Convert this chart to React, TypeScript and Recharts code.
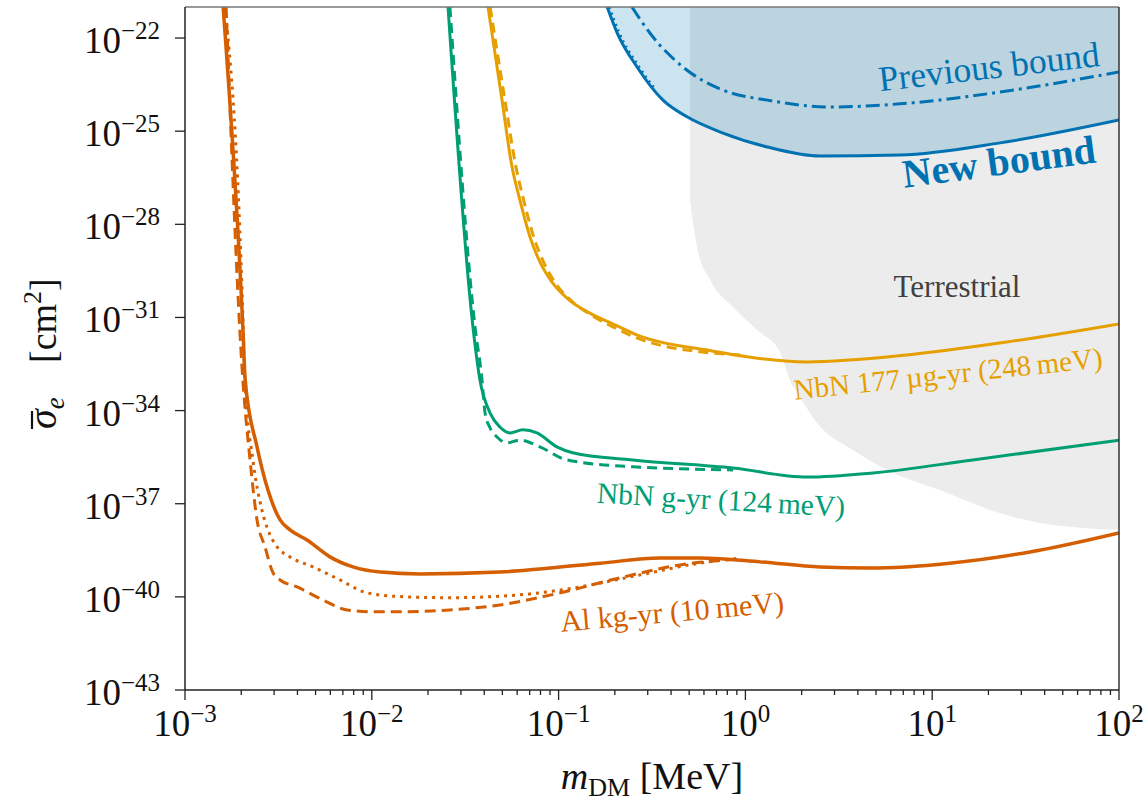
import React from "react";
import {
  ComposedChart,
  Line,
  Area,
  XAxis,
  YAxis,
  ReferenceLine,
} from "recharts";

type Pt = [number, number];

const FONT = "'Liberation Serif', 'DejaVu Serif', serif";

// axes
const xMajor = [1e-3, 1e-2, 1e-1, 1, 10, 100];
const xMajorLabels = ["\u22123", "\u22122", "\u22121", "0", "1", "2"];
const yMajor = [1e-43, 1e-40, 1e-37, 1e-34, 1e-31, 1e-28, 1e-25, 1e-22];
const yMajorLabels = ["\u221243", "\u221240", "\u221237", "\u221234", "\u221231", "\u221228", "\u221225", "\u221222"];

// [m_DM (MeV), sigma_e (cm^2)]
const alSolid: Pt[] = [
  [1.6e-3, 1e-21], [2.04e-3, 4.9e-32], [2.1e-3, 9.8e-34], [2.43e-3, 6.8e-36],
  [2.78e-3, 2.75e-37], [3.23e-3, 3.0e-38], [3.65e-3, 1.44e-38], [4.5e-3, 6.8e-39],
  [5.97e-3, 1.94e-39], [7.93e-3, 9.2e-40], [1.11e-2, 6.3e-40], [1.81e-2, 5.5e-40],
  [4.85e-2, 6.3e-40], [0.167, 1.22e-39], [0.349, 1.77e-39], [0.571, 1.77e-39],
  [1.2, 1.34e-39], [2.51, 9.2e-40], [4.64, 8.5e-40], [12.4, 1.22e-39],
  [33.4, 2.8e-39], [100, 1.15e-38],
];
const alDotted: Pt[] = [
  [1.64e-3, 1e-21], [2.05e-3, 4.9e-32], [2.09e-3, 9.8e-34], [2.31e-3, 2.57e-36],
  [2.58e-3, 6.3e-38], [2.78e-3, 1.44e-38], [3.11e-3, 4.1e-39], [3.65e-3, 1.94e-39],
  [4.84e-3, 9.2e-40], [6.76e-3, 3.5e-40], [9.42e-3, 1.35e-40], [1.42e-2, 1.02e-40],
  [2.62e-2, 9.4e-41], [6.21e-2, 1.16e-40], [0.13, 2.09e-40], [0.273, 5.1e-40],
  [0.571, 1.22e-39], [0.935, 1.77e-39],
];
const alDashed: Pt[] = [
  [1.66e-3, 1e-21], [2.04e-3, 9.8e-34], [2.23e-3, 2.57e-36], [2.43e-3, 3.0e-38],
  [2.68e-3, 4.1e-39], [2.96e-3, 5.9e-40], [3.23e-3, 3.5e-40], [3.98e-3, 2.09e-40],
  [5.48e-3, 7.9e-41], [7.37e-3, 3.8e-41], [1.01e-2, 3.3e-41], [1.42e-2, 3.3e-41],
  [2.62e-2, 3.8e-41], [4.85e-2, 5.5e-41], [0.102, 1.35e-40], [0.213, 4.1e-40],
  [0.447, 1.07e-39], [0.935, 1.66e-39],
];
const nbnSolid: Pt[] = [
  [2.56e-2, 1e-21], [3.48e-2, 4.9e-32], [3.79e-2, 9.8e-34], [4.3e-2, 8.3e-35],
  [4.85e-2, 2.95e-35], [5.5e-2, 1.9e-35], [6.44e-2, 2.4e-35], [7.66e-2, 1.9e-35],
  [9.79e-2, 6.8e-36], [0.119, 4.4e-36], [0.25, 2.57e-36], [0.859, 1.41e-36],
  [2.14, 7.2e-37], [4.82, 9.8e-37], [16.5, 2.57e-36], [100, 1.11e-35],
];
const nbnDashed: Pt[] = [
  [2.62e-2, 1e-21], [3.57e-2, 4.9e-32], [3.89e-2, 9.8e-34], [4.04e-2, 8.3e-35],
  [4.3e-2, 2.75e-35], [4.68e-2, 1.41e-35], [5.3e-2, 9.1e-36], [6.21e-2, 1.13e-35],
  [7.94e-2, 6.8e-36], [0.111, 2.57e-36], [0.25, 1.55e-36], [0.859, 1.23e-36],
];
const thinSolid: Pt[] = [
  [4.19e-2, 1e-21], [4.98e-2, 1.0e-24], [5.63e-2, 7.1e-27], [6.21e-2, 6.0e-28],
  [7.03e-2, 3.9e-29], [7.94e-2, 6.2e-30], [9.22e-2, 1.38e-30], [0.112, 4.0e-31],
  [0.147, 1.38e-31], [0.2, 5.8e-32], [0.273, 2.5e-32], [0.622, 8.9e-33],
  [2.14, 3.7e-33], [7.33, 6.2e-33], [25.1, 1.62e-32], [100, 6.2e-32],
];
const thinDashed: Pt[] = [
  [4.3e-2, 1e-21], [5.16e-2, 1.0e-24], [5.91e-2, 7.1e-27], [6.5e-2, 6.0e-28],
  [7.36e-2, 3.9e-29], [8.3e-2, 6.2e-30], [9.6e-2, 1.3e-30], [0.116, 3.6e-31],
  [0.153, 1.1e-31], [0.2, 4.6e-32], [0.273, 2.0e-32], [0.571, 7.8e-33],
  [0.935, 6.2e-33],
];
const newBound: Pt[] = [
  [0.182, 1e-21], [0.206, 1.45e-22], [0.263, 1.17e-23], [0.362, 1.0e-24],
  [0.487, 2.9e-25], [0.759, 8.7e-26], [1.31, 3.1e-26], [2.51, 1.58e-26],
  [6.73, 1.7e-26], [23.1, 4.2e-26], [100, 2.3e-25],
];
const newBoundDotted: Pt[] = [
  [0.187, 1e-21], [0.21, 1.6e-22], [0.266, 1.35e-23], [0.33, 2.2e-24],
];
const prevBound: Pt[] = [
  [0.247, 1e-21], [0.308, 1.45e-22], [0.463, 1.17e-23], [0.759, 2.1e-24],
  [1.31, 1.0e-24], [2.84, 6.0e-25], [6.73, 7.6e-25], [23.1, 1.82e-24],
  [100, 8.1e-24],
];
const terrestrial: Pt[] = [
  [0.505, 6.0e-28], [0.551, 1.86e-29], [0.647, 1.62e-30], [0.859, 2.19e-31],
  [1.15, 4.0e-32], [1.53, 7.8e-33], [1.73, 9.8e-34], [1.96, 2.75e-34],
  [2.42, 4.0e-35], [3.77, 5.4e-36], [5.73, 1.23e-36], [11.0, 2.75e-37],
  [20.4, 6.3e-38], [37.8, 2.4e-38], [64.1, 1.66e-38], [100, 1.44e-38],
];

const notes = [
  { text: "Previous bound", cx: 989, cy: 67, rot: -6.5, color: "#0072B2", size: 35.5, bold: false },
  { text: "New bound", cx: 999, cy: 162, rot: -7.5, color: "#0072B2", size: 40, bold: true },
  { text: "Terrestrial", cx: 957, cy: 287, rot: 0, color: "#404040", size: 31, bold: false },
  { text: "NbN 177\u2009\u00b5g-yr (248\u2009meV)", cx: 948, cy: 374, rot: -6, color: "#E69F00", size: 29, bold: false },
  { text: "NbN g-yr (124\u2009meV)", cx: 721, cy: 500, rot: 3.2, color: "#009E73", size: 29.5, bold: false },
  { text: "Al kg-yr (10\u2009meV)", cx: 672, cy: 612, rot: -5, color: "#D55E00", size: 30, bold: false },
];

const xTicks: number[] = [];
xMajor.slice(0, 5).forEach((d) => {
  for (let k = 1; k < 10; k++) xTicks.push(d * k);
});
xTicks.push(100);

const toPts = (pts: Pt[]) => pts.map(([m, s]) => ({ m, s }));
const toBand = (pts: Pt[]) => pts.map(([m, s]) => ({ m, r: [s, 1e-21] }));

const isMajor = (v: number) => {
  const l = Math.log10(v);
  return Math.abs(l - Math.round(l)) < 1e-6;
};

function XTick(props: any) {
  const { x, y, payload } = props;
  const major = isMajor(payload.value);
  const idx = xMajor.findIndex((v) => Math.abs(Math.log10(v) - Math.log10(payload.value)) < 1e-6);
  return (
    <g>
      <line x1={x} x2={x} y1={y} y2={y + (major ? 10 : 5)} stroke="#222" strokeWidth={1.3} />
      {major && (
        <text x={x} y={y + 46} textAnchor="middle" fontFamily={FONT} fill="#111">
          <tspan fontSize={37}>10</tspan>
          <tspan fontSize={25} dy={-14}>{xMajorLabels[idx]}</tspan>
        </text>
      )}
    </g>
  );
}

function YTick(props: any) {
  const { x, y, payload } = props;
  const idx = yMajor.findIndex((v) => Math.abs(Math.log10(v) - Math.log10(payload.value)) < 1e-6);
  return (
    <g>
      <line x1={x - 10} x2={x} y1={y} y2={y} stroke="#222" strokeWidth={1.3} />
      <text x={x - 25} y={y + 15} textAnchor="end" fontFamily={FONT} fill="#111">
        <tspan fontSize={37}>10</tspan>
        <tspan fontSize={25} dy={-14}>{yMajorLabels[idx]}</tspan>
      </text>
    </g>
  );
}

// text layer drawn above the chart
function Texts() {
  return (
    <svg
      width={1148}
      height={802}
      style={{ position: "absolute", left: 0, top: 0, pointerEvents: "none" }}
      fontFamily={FONT}
    >
      <text x={652} y={789} textAnchor="middle" fill="#111" fontSize={38}>
        <tspan fontStyle="italic">m</tspan>
        <tspan fontSize={26} dy={7}>DM</tspan>
        <tspan dy={-7}> [MeV]</tspan>
      </text>
      <g transform="rotate(-90 56 352)">
        <text x={-21} y={352} fill="#111" fontSize={40}>
          <tspan fontStyle="italic">{"\u03c3"}</tspan>
          <tspan fontSize={27} fontStyle="italic" dy={8}>e</tspan>
        </text>
        <line x1={-21} x2={-3} y1={328} y2={328} stroke="#111" strokeWidth={2.2} />
        <text x={45} y={352} fill="#111" fontSize={38}>
          <tspan>[cm</tspan>
          <tspan fontSize={26} dy={-15}>2</tspan>
          <tspan dy={15}>]</tspan>
        </text>
      </g>
      {notes.map((n) => (
        <g key={n.text} transform={`translate(${n.cx},${n.cy}) rotate(${n.rot})`}>
          <text
            x={0}
            y={n.size * 0.33}
            textAnchor="middle"
            fill={n.color}
            fontSize={n.size}
            fontWeight={n.bold ? "bold" : "normal"}
          >
            {n.text}
          </text>
        </g>
      ))}
    </svg>
  );
}

export default function App() {
  return (
    <div style={{ position: "absolute", left: 0, top: 0, width: 1148, height: 802, background: "#fff" }}>
      <ComposedChart width={1148} height={802} margin={{ top: 7, right: 29, bottom: 12, left: 35 }}>
        <XAxis
          dataKey="m"
          type="number"
          scale="log"
          domain={[1e-3, 100]}
          allowDataOverflow
          ticks={xTicks}
          interval={0}
          tick={<XTick />}
          tickLine={false}
          tickSize={0}
          tickMargin={0}
          height={100}
          axisLine={{ stroke: "#222", strokeWidth: 1.5 }}
        />
        <YAxis
          type="number"
          scale="log"
          domain={[1e-43, 1e-21]}
          allowDataOverflow
          ticks={yMajor}
          interval={0}
          tick={<YTick />}
          tickLine={false}
          tickSize={0}
          tickMargin={0}
          width={150}
          axisLine={{ stroke: "#222", strokeWidth: 1.5 }}
        />
        <Area
          data={toBand(terrestrial)}
          dataKey="r"
          type="monotone"
          stroke="none"
          fill="#ececec"
          fillOpacity={1}
          isAnimationActive={false}
        />
        <Area
          data={toBand(newBound)}
          dataKey="r"
          type="monotone"
          stroke="none"
          fill="#0072B2"
          fillOpacity={0.2}
          isAnimationActive={false}
        />
        <Line data={toPts(prevBound)} dataKey="s" type="monotone" stroke="#0072B2" strokeWidth={3} strokeDasharray="14 5 3 5" dot={false} isAnimationActive={false} />
        <Line data={toPts(newBoundDotted)} dataKey="s" type="monotone" stroke="#0072B2" strokeWidth={2.5} strokeDasharray="2 4" dot={false} isAnimationActive={false} />
        <Line data={toPts(newBound)} dataKey="s" type="monotone" stroke="#0072B2" strokeWidth={3} dot={false} isAnimationActive={false} />
        <Line data={toPts(thinDashed)} dataKey="s" type="monotone" stroke="#E69F00" strokeWidth={3} strokeDasharray="10 6" dot={false} isAnimationActive={false} />
        <Line data={toPts(thinSolid)} dataKey="s" type="monotone" stroke="#E69F00" strokeWidth={3} dot={false} isAnimationActive={false} />
        <Line data={toPts(nbnDashed)} dataKey="s" type="monotone" stroke="#009E73" strokeWidth={3} strokeDasharray="10 6" dot={false} isAnimationActive={false} />
        <Line data={toPts(nbnSolid)} dataKey="s" type="monotone" stroke="#009E73" strokeWidth={3} dot={false} isAnimationActive={false} />
        <Line data={toPts(alDashed)} dataKey="s" type="monotone" stroke="#D55E00" strokeWidth={3} strokeDasharray="11 6" dot={false} isAnimationActive={false} />
        <Line data={toPts(alDotted)} dataKey="s" type="monotone" stroke="#D55E00" strokeWidth={3} strokeDasharray="3 5" dot={false} isAnimationActive={false} />
        <Line data={toPts(alSolid)} dataKey="s" type="monotone" stroke="#D55E00" strokeWidth={3.5} dot={false} isAnimationActive={false} />
        <ReferenceLine y={1e-21} stroke="#777" strokeWidth={1.5} />
        <ReferenceLine x={100} stroke="#333" strokeWidth={1.5} />
      </ComposedChart>
      <Texts />
    </div>
  );
}
